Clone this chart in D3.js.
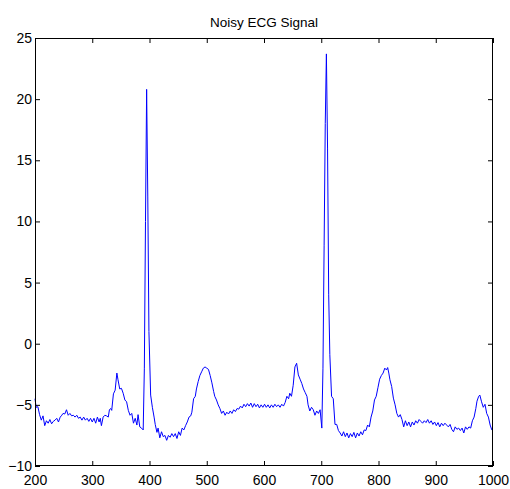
<!DOCTYPE html>
<html>
<head>
<meta charset="utf-8">
<script src="https://cdn.jsdelivr.net/npm/d3@7"></script>
<style>
  body { margin: 0; background: #fff; }
  svg { display: block; }
  .tick text { font-family: "Liberation Sans", Arial, sans-serif; font-size: 14px; fill: #000; }
</style>
</head>
<body>
<div id="chart"></div>
<script>
// sample index of each read point
const samples = [
  200, 202, 205, 208, 211, 214, 217, 220, 223, 226, 229, 232, 235, 238, 241, 244, 246, 249, 252, 255,
  258, 261, 264, 267, 270, 273, 276, 279, 282, 285, 288, 291, 294, 297, 300, 303, 306, 309, 312, 314,
  316, 319, 322, 325, 328, 330, 332, 334, 337, 340, 343, 345, 348, 351, 354, 357, 360, 363, 366, 369,
  372, 375, 378, 380, 383, 386, 389, 391, 393, 395, 397, 399, 402, 405, 408, 410, 413, 415, 418, 421,
  424, 427, 430, 433, 436, 439, 442, 445, 448, 451, 454, 457, 460, 463, 466, 469, 472, 474, 477, 480,
  482, 485, 488, 491, 494, 497, 500, 503, 506, 509, 512, 514, 517, 520, 523, 526, 529, 532, 535, 538,
  541, 544, 547, 550, 553, 556, 559, 562, 565, 568, 571, 574, 577, 580, 583, 586, 589, 592, 595, 598,
  601, 604, 607, 610, 613, 616, 619, 622, 625, 628, 631, 634, 637, 640, 643, 645, 648, 651, 654, 657,
  660, 663, 666, 669, 672, 675, 677, 680, 683, 686, 689, 692, 695, 698, 701, 703, 705, 707, 709, 711,
  713, 715, 718, 721, 724, 727, 730, 733, 736, 739, 742, 745, 748, 751, 754, 757, 760, 763, 766, 769,
  772, 775, 778, 781, 784, 787, 790, 793, 796, 799, 802, 805, 808, 811, 814, 816, 818, 820, 823, 826,
  829, 832, 835, 838, 841, 844, 847, 850, 853, 856, 859, 862, 865, 868, 871, 874, 877, 880, 883, 886,
  889, 892, 895, 898, 901, 904, 907, 910, 913, 916, 919, 922, 925, 928, 931, 934, 937, 940, 943, 946,
  949, 952, 955, 958, 961, 964, 967, 970, 972, 975, 977, 980, 983, 986, 989, 992, 995, 998, 1000
];

// noisy ECG amplitude at each sample
const ecg = [
  -4.5, -5.2, -5.15, -5.8, -6.25, -5.9, -6.7, -6.3, -6.5, -6.2, -6.55, -6.35, -6.25, -6.1, -6.4, -6.0, -5.9, -5.7, -5.75, -5.4,
  -5.85, -5.7, -5.9, -5.85, -6.0, -5.85, -6.1, -6.0, -6.25, -6.0, -6.25, -6.1, -6.35, -6.1, -6.4, -6.1, -6.5, -6.0, -6.4, -6.1,
  -6.7, -6.0, -5.85, -5.9, -6.0, -5.4, -5.3, -5.45, -4.1, -3.8, -2.4, -2.95, -3.7, -3.65, -4.05, -4.6, -4.75, -5.45, -5.85, -5.7,
  -6.5, -6.1, -6.65, -5.8, -6.8, -6.9, -7.05, -2.0, 10.0, 20.8, 12.0, 1.0, -4.2, -5.2, -6.0, -6.6, -7.25, -6.9, -7.7, -7.2,
  -7.6, -7.5, -7.9, -7.5, -7.65, -7.35, -7.6, -7.35, -7.75, -7.2, -7.5, -6.9, -7.05, -6.7, -6.4, -6.0, -5.9, -5.6, -4.5, -4.3,
  -3.7, -3.1, -2.6, -2.3, -2.0, -1.9, -2.0, -2.1, -2.6, -3.2, -3.9, -4.3, -4.6, -5.0, -5.3, -5.7, -5.5, -5.85, -5.6, -5.75,
  -5.5, -5.7, -5.4, -5.55, -5.3, -5.35, -5.1, -5.25, -4.95, -5.15, -4.9, -5.1, -4.85, -5.2, -4.9, -5.15, -4.95, -5.25, -5.0, -5.2,
  -4.95, -5.2, -5.0, -5.25, -5.0, -5.2, -4.95, -5.15, -5.0, -5.2, -4.95, -5.1, -4.8, -4.3, -4.5, -4.05, -4.3, -3.4, -1.9, -1.6,
  -2.55, -2.9, -3.25, -3.7, -4.0, -4.3, -5.0, -5.5, -5.2, -5.4, -5.85, -5.5, -5.7, -5.4, -6.9, -2.0, 8.0, 18.0, 23.7, 16.0,
  4.0, -0.9, -4.3, -4.5, -6.6, -6.6, -7.1, -7.3, -7.55, -7.2, -7.6, -7.3, -7.7, -7.35, -7.6, -7.25, -7.7, -7.3, -7.55, -7.2,
  -7.45, -7.05, -7.1, -6.65, -6.8, -6.0, -5.5, -4.6, -4.3, -3.6, -2.9, -2.6, -2.4, -2.0, -2.15, -1.95, -2.4, -2.95, -3.5, -4.45,
  -5.0, -5.7, -6.0, -5.8, -6.2, -6.8, -6.3, -6.7, -6.4, -6.8, -6.4, -6.65, -6.3, -6.5, -6.2, -6.35, -6.5, -6.3, -6.45, -6.2,
  -6.5, -6.3, -6.6, -6.4, -6.7, -6.45, -6.8, -6.5, -6.7, -6.5, -6.65, -6.8, -6.6, -7.0, -7.2, -6.8, -7.0, -6.9, -7.1, -6.9,
  -7.3, -6.8, -7.0, -6.8, -6.9, -6.3, -6.0, -5.3, -4.7, -4.3, -4.2, -4.75, -5.2, -4.95, -5.7, -6.0, -6.65, -7.05, -7.1
];

const xTicks = [200, 300, 400, 500, 600, 700, 800, 900, 1000];
const yTicks = [-10, -5, 0, 5, 10, 15, 20, 25];
const title = 'Noisy ECG Signal';

const WIDTH = 510;
const HEIGHT = 489;
const LEFT = 35;
const RIGHT = 493;
const TOP = 38;
const BOTTOM = 466;
const TICK = 5;

const svg = d3.create('svg').attr('width', WIDTH).attr('height', HEIGHT);

const xScale = d3.scaleLinear().domain([200, 1000]).range([LEFT, RIGHT]);
const yScale = d3.scaleLinear().domain([-10, 25]).range([BOTTOM, TOP]);

const points = samples.map((s, i) => [s, ecg[i]]);

const line = d3
  .line()
  .x((d) => xScale(d[0]))
  .y((d) => yScale(d[1]));

svg
  .append('path')
  .datum(points)
  .attr('d', line)
  .attr('fill', 'none')
  .attr('stroke', '#0000ff')
  .attr('stroke-width', 1)
  .attr('stroke-linejoin', 'round');

// inward ticks on all four sides, like matlab
const addAxis = (axis, transform, showLabels) => {
  const g = svg
    .append('g')
    .attr('transform', transform)
    .call(axis);
  g.select('.domain').remove();
  g.selectAll('.tick line').attr('stroke', '#000');
  if (!showLabels) g.selectAll('.tick text').remove();
  return g;
};

const fmt = d3.format('d');

addAxis(
  d3.axisBottom(xScale).tickValues(xTicks).tickFormat(fmt).tickSizeInner(-TICK).tickSizeOuter(0).tickPadding(9),
  `translate(0, ${BOTTOM})`,
  true
);
addAxis(
  d3.axisTop(xScale).tickValues(xTicks).tickSizeInner(-TICK).tickSizeOuter(0),
  `translate(0, ${TOP})`,
  false
);
addAxis(
  d3.axisLeft(yScale).tickValues(yTicks).tickFormat(fmt).tickSizeInner(-TICK).tickSizeOuter(0).tickPadding(3),
  `translate(${LEFT}, 0)`,
  true
);
addAxis(
  d3.axisRight(yScale).tickValues(yTicks).tickSizeInner(-TICK).tickSizeOuter(0),
  `translate(${RIGHT}, 0)`,
  false
);

svg
  .append('rect')
  .attr('x', LEFT + 0.5)
  .attr('y', TOP + 0.5)
  .attr('width', RIGHT - LEFT - 1)
  .attr('height', BOTTOM - TOP - 1)
  .attr('fill', 'none')
  .attr('stroke', '#000')
  .attr('stroke-width', 1);

svg
  .append('text')
  .attr('x', (LEFT + RIGHT) / 2)
  .attr('y', 27)
  .attr('text-anchor', 'middle')
  .style('font-family', '"Liberation Sans", Arial, sans-serif')
  .style('font-size', '13.5px')
  .text(title);

document.getElementById('chart').appendChild(svg.node());
</script>
</body>
</html>
